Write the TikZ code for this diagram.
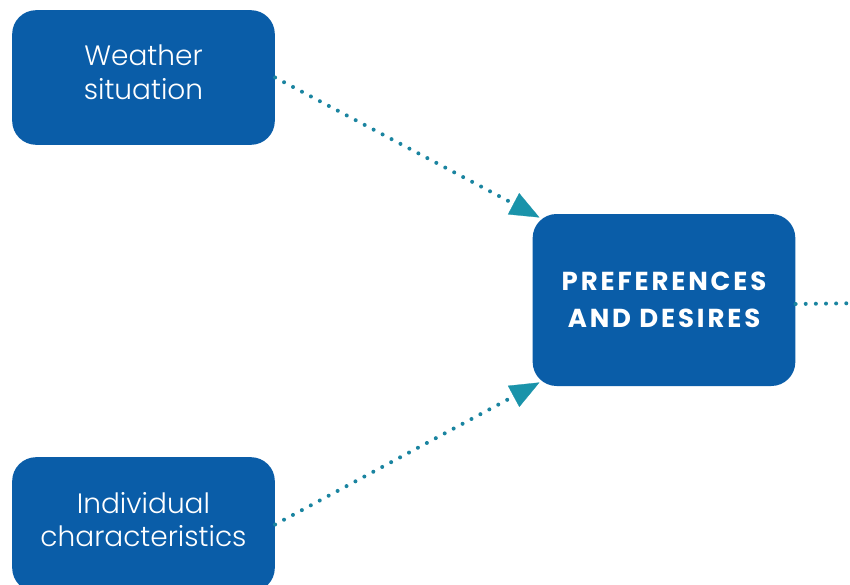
\documentclass[tikz,border=0pt]{standalone}
\usepackage{fontspec}
\setsansfont{Poppins}
\newfontfamily\lightfont{Poppins Light}
\newfontfamily\capsfont[LetterSpace=11]{Poppins}
\usetikzlibrary{arrows.meta,calc}

\definecolor{boxblue}{HTML}{0A5DA8}
\definecolor{dotteal}{HTML}{1A84A0}
\definecolor{tipteal}{HTML}{1A93AA}

\tikzset{
  box/.style={rounded corners=18pt, fill=boxblue, text=white, align=center,
    minimum width=197pt, minimum height=101pt, inner sep=0pt},
  smalltext/.style={font=\lightfont\fontsize{21}{25}\selectfont, text depth=8pt},
  bigtext/.style={font=\capsfont\bfseries\fontsize{19.5}{28}\selectfont},
  dotline/.style={dotteal, line width=3pt, line cap=round,
    dash pattern=on 0pt off 7.6pt, shorten >=18pt},
  tip/.style={tipteal, line width=0.2pt,
    -{Triangle[length=22pt,width=18pt]}, shorten >=-6pt},
}

\begin{document}
\begin{tikzpicture}[x=0.75pt,y=0.75pt,yscale=-1,xscale=1]
\clip (0,0) rectangle (850,585);
\fill[white] (0,0) rectangle (850,585);

%Shape: Rounded Rect [weather]
\node (weather) at (143.5,77.5) [box, smalltext] {Weather\\situation};
%Shape: Rounded Rect [individual]
\node (indiv) at (143.5,524.5) [box, smalltext] {Individual\\characteristics};
%Shape: Rounded Rect [preferences]
\node (pref) at (664,300) [box, bigtext, minimum height=129pt] {PREFERENCES\\AND DESIRES};
\coordinate (out) at (870,303);

%Connectors
\draw [dotline] (weather.east) -- (pref.north west);
\draw [dotline] (indiv.east) -- (pref.south west);
\draw [dotline, shorten >=0pt] ([yshift=3]pref.east) -- (out);
%Arrow heads
\draw [tip] ($(weather.east)!0.95!(pref.north west)$) -- (pref.north west);
\draw [tip] ($(indiv.east)!0.95!(pref.south west)$) -- (pref.south west);
\end{tikzpicture}
\end{document}
